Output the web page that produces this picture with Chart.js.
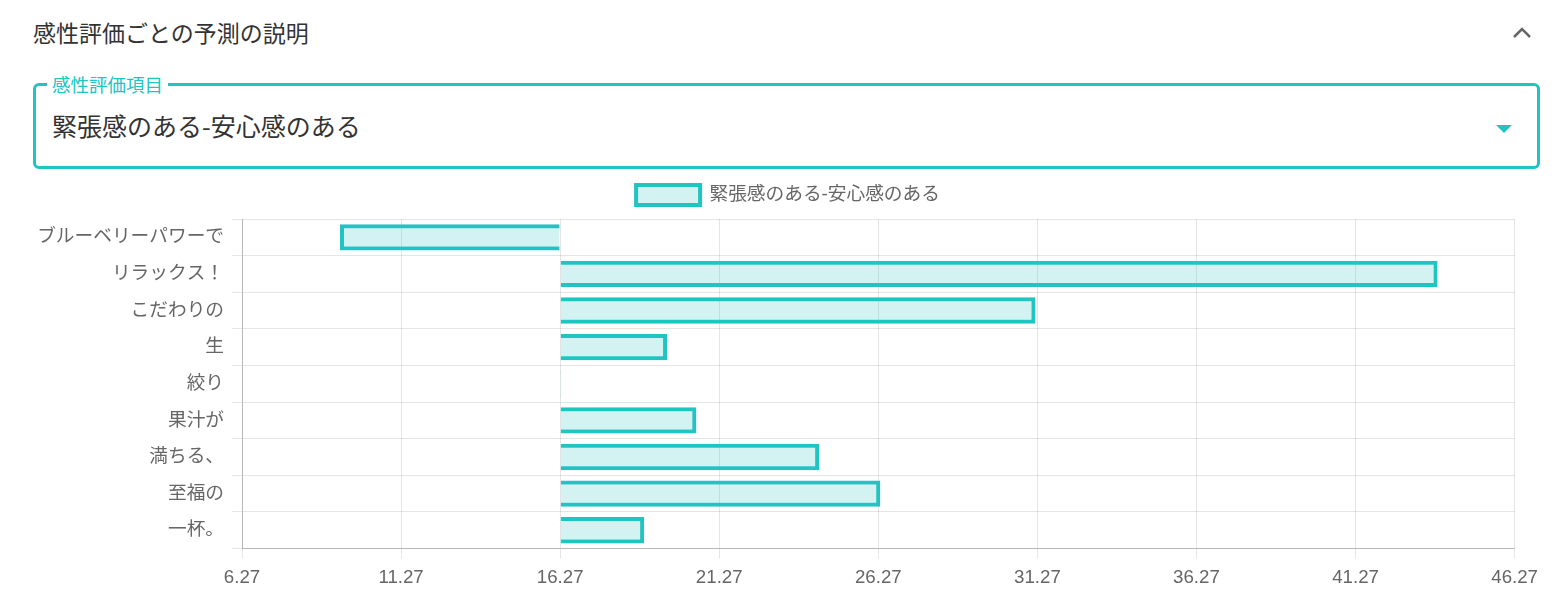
<!DOCTYPE html>
<html>
<head>
    <meta charset="utf-8">
    <title>感性評価ごとの予測の説明</title>
    <style>
        body {
            margin: 0;
            width: 1558px;
            height: 589px;
            background: #fff;
            font-family: "Noto Sans CJK JP", "Noto Sans", sans-serif;
            position: relative;
            overflow: hidden;
        }
        .title {
            position: absolute;
            left: 33px;
            top: 16px;
            font-size: 23px;
            line-height: 32px;
            color: #333;
        }
        .chevron {
            position: absolute;
            left: 1512px;
            top: 26px;
        }
        .field {
            position: absolute;
            left: 33px;
            top: 83px;
            width: 1501px;
            height: 80px;
            border: 3px solid #20c4c0;
            border-radius: 6px;
        }
        .field .label {
            position: absolute;
            left: 11px;
            top: -15px;
            padding: 0 5px;
            background: #fff;
            color: #20c4c0;
            font-size: 18.5px;
            line-height: 26px;
        }
        .field .value {
            position: absolute;
            left: 16px;
            top: 21px;
            font-size: 25px;
            line-height: 36px;
            color: #333;
        }
        .field .arrow {
            position: absolute;
            left: 1459px;
            top: 38px;
        }
        .chart {
            position: absolute;
            left: 30px;
            top: 175px;
            width: 1516px;
            height: 422px;
        }
    </style>
    <script src="https://cdn.jsdelivr.net/npm/chart.js"></script>
</head>
<body>
    <div class="title">感性評価ごとの予測の説明</div>
    <svg class="chevron" width="20" height="14"><polyline points="2,11 10,3 18,11" fill="none" stroke="#666" stroke-width="2.5"/></svg>
    <div class="field">
        <span class="label">感性評価項目</span>
        <div class="value">緊張感のある-安心感のある</div>
        <svg class="arrow" width="18" height="10"><polygon points="1,1 17,1 9,9" fill="#20c4c0"/></svg>
    </div>
    <div class="chart">
        <canvas id="explainChart"></canvas>
    </div>

    <script>
        // data
        const seriesName = '緊張感のある-安心感のある';
        const categories = ['ブルーベリーパワーで', 'リラックス！', 'こだわりの', '生', '絞り', '果汁が', '満ちる、', '至福の', '一杯。'];
        const baseValue = 16.27;
        const values = [9.35, 43.85, 31.21, 19.63, 16.30, 20.55, 24.41, 26.33, 18.91];
        const xTicks = [6.27, 11.27, 16.27, 21.27, 26.27, 31.27, 36.27, 41.27, 46.27];

        const teal = 'rgb(32, 196, 192)';
        const fontSize = 18.7;
        const fontFamily = '"Liberation Sans", "Noto Sans CJK JP", sans-serif';

        // a bit more room under the legend
        const legendGap = {
            id: 'legendGap',
            beforeInit(chart) {
                const legend = chart.legend;
                const fit = legend.fit;
                legend.fit = function () {
                    fit.call(legend);
                    this.height += 4;
                };
            }
        };

        const ctx = document.getElementById('explainChart').getContext('2d');
        new Chart(ctx, {
            type: 'bar',
            data: {
                labels: categories,
                datasets: [{
                    label: seriesName,
                    data: values,
                    base: baseValue,
                    backgroundColor: 'rgba(32, 196, 192, 0.2)',
                    borderColor: teal,
                    borderWidth: 4
                }]
            },
            plugins: [legendGap],
            options: {
                indexAxis: 'y',
                responsive: true,
                maintainAspectRatio: false,
                animation: false,
                layout: {
                    padding: 0
                },
                plugins: {
                    legend: {
                        labels: {
                            boxWidth: 64,
                            boxHeight: 20,
                            color: '#666',
                            font: { size: fontSize, family: fontFamily }
                        }
                    },
                    tooltip: { enabled: false }
                },
                scales: {
                    x: {
                        min: xTicks[0],
                        max: xTicks[xTicks.length - 1],
                        afterBuildTicks: s => {
                            s.ticks = xTicks.map(v => ({ value: v }));
                        },
                        grid: { tickLength: 10, color: 'rgba(0,0,0,0.1)' },
                        border: { color: 'rgba(0,0,0,0.2)' },
                        ticks: {
                            padding: 8,
                            color: '#666',
                            font: { size: fontSize, family: fontFamily },
                            callback: v => Number(v).toFixed(2)
                        }
                    },
                    y: {
                        afterFit: s => { s.width = 212; },
                        grid: { tickLength: 10, color: 'rgba(0,0,0,0.1)' },
                        border: { color: 'rgba(0,0,0,0.2)' },
                        ticks: {
                            padding: 8,
                            color: '#666',
                            font: { size: fontSize, family: fontFamily }
                        }
                    }
                }
            }
        });
    </script>
</body>
</html>
